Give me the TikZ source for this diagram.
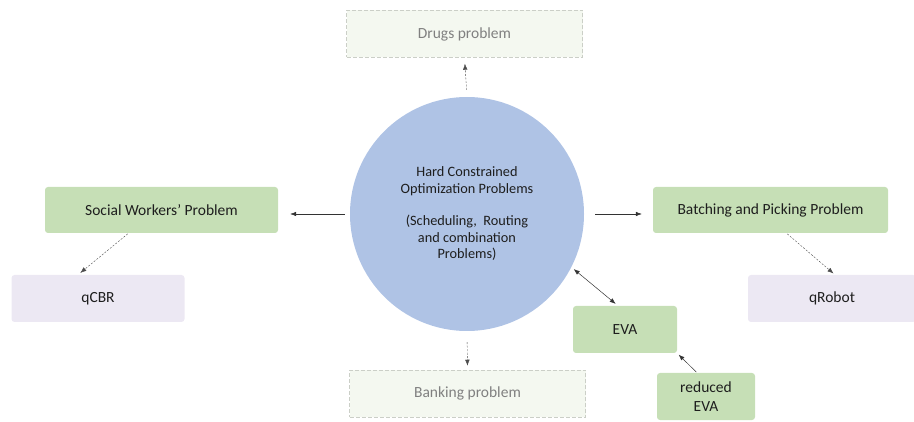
\documentclass[tikz,border=0pt]{standalone}
\usepackage{fontspec}
\setmainfont{Carlito}
\usetikzlibrary{arrows.meta, positioning}
\definecolor{boxgreen}{HTML}{C6DFB6}
\definecolor{hubblue}{HTML}{AFC3E5}
\definecolor{paleviolet}{HTML}{ECE8F3}
\definecolor{palegreen}{HTML}{F4F8F0}
\definecolor{dashgray}{HTML}{CBCFC7}
\definecolor{textdark}{HTML}{1E1E1E}

\begin{document}
\begin{tikzpicture}[
  x=1pt, y=-1pt,
  every node/.style={font=\fontsize{15.5}{17}\selectfont, text=textdark, align=center, inner sep=0pt},
  box/.style={rounded corners=3pt, fill=boxgreen, minimum width=233pt, minimum height=46pt},
  subbox/.style={rounded corners=3pt, fill=paleviolet, minimum height=47pt},
  ghost/.style={fill=palegreen, draw=dashgray, dash pattern=on 4pt off 2pt, line width=0.5pt, text=gray,
                minimum width=236pt, minimum height=47pt},
  arr/.style={-{Latex[length=6pt, width=4.5pt]}, line width=0.5pt, draw=black!80},
  darr/.style={-{Latex[length=6pt, width=4.5pt]}, dashed, dash pattern=on 2pt off 1.5pt, line width=0.4pt, draw=black!70},
  barr/.style={{Latex[length=6pt, width=4.5pt]}-{Latex[length=6pt, width=4.5pt]}, line width=0.5pt, draw=black!80},
]
\useasboundingbox (0,0) rectangle (914,422);

% CENTRE
\node[circle, fill=hubblue, minimum size=234pt, font=\fontsize{14.3}{16.5}\selectfont] (hub) at (467,214)
  {Hard Constrained\\Optimization Problems\\[16pt](Scheduling,\ \ Routing\\and combination\\Problems)};

% TOP / BOTTOM
\node[ghost] (drugs)   at (464.5,34)  {Drugs problem};
\node[ghost] (banking) at (467.5,393.5) {Banking problem};

% LEFT
\node[box] (social) at (161.5,210) {Social Workers' Problem};
\node[subbox, minimum width=173pt] (qcbr) at (98,298.5) {qCBR};

% RIGHT
\node[box, minimum width=235pt] (batching) at (770.5,210) {Batching and Picking Problem};
\node[subbox, minimum width=168pt] (qrobot) at (832,298.5) {qRobot};

% EVA
\node[box, minimum width=104pt, minimum height=47pt] (eva) at (625,329.5) {EVA};
\node[box, minimum width=98pt, minimum height=47pt, font=\fontsize{15.5}{19}\selectfont] (reduced) at (706,396.5) {reduced\\EVA};

\draw[darr, shorten <=7pt, shorten >=6pt] (hub.north) -- (drugs.south);
\draw[darr, shorten <=11pt, shorten >=4pt] (hub.south) -- (banking.north);
\draw[arr, shorten <=5pt, shorten >=12pt] (hub.west) -- (hub.west -| social.east);
\draw[arr, shorten <=11pt, shorten >=11pt] (hub.east) -- (hub.east -| batching.west);
\draw[darr, shorten <=1pt, shorten >=3pt] ([xshift=-33pt]social.south) -- ([xshift=-20pt]qcbr.north);
\draw[darr, shorten <=1pt, shorten >=2pt] ([xshift=16pt]batching.south) -- ([xshift=3pt]qrobot.north);
\draw[barr, shorten <=3pt, shorten >=3pt] (hub.-27) -- ([xshift=-7pt]eva.north);
\draw[arr, shorten <=1pt, shorten >=2pt] ([xshift=-9pt]reduced.north) -- (eva.south east);

\end{tikzpicture}
\end{document}
